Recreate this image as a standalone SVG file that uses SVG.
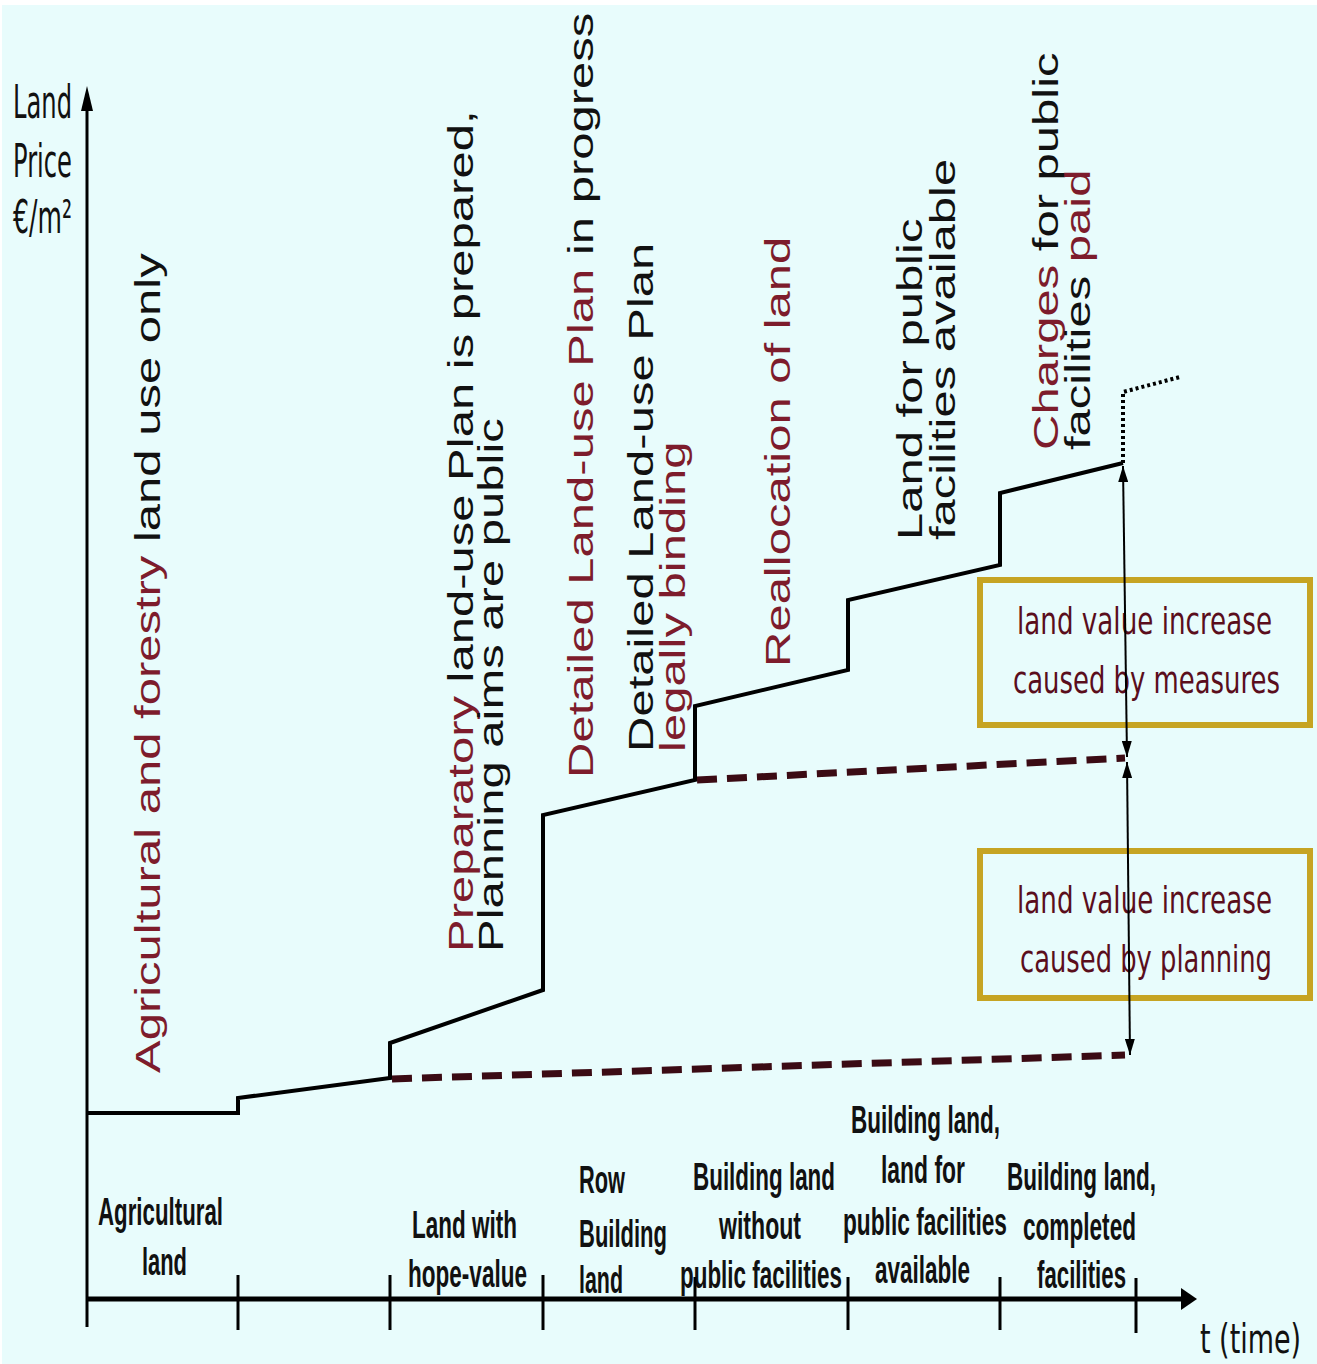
<svg xmlns="http://www.w3.org/2000/svg" width="1317" height="1364" viewBox="0 0 1317 1364">
  <defs>
    <style>
      .rot { font-family: "Liberation Sans", Arial, sans-serif; font-size: 49px; fill: #111; }
      .mr { fill: #7d1c2c; }
      .lbl { font-family: "Liberation Sans", Arial, sans-serif; font-weight: bold; font-size: 38px; fill: #111; }
      .axlbl { font-family: "DejaVu Sans", Verdana, sans-serif; font-size: 46px; fill: #111; }
      .box { fill: none; stroke: #c6a423; stroke-width: 6; }
      .boxtxt { font-family: "DejaVu Sans", Verdana, sans-serif; font-size: 38px; fill: #5a0e1c; }
      .price { fill: none; stroke: #000; stroke-width: 4; stroke-linejoin: miter; }
      .dotted { fill: none; stroke: #000; stroke-width: 4; stroke-dasharray: 3 3; }
      .dashed { fill: none; stroke: #3b0b14; stroke-width: 7; stroke-dasharray: 20 10; }
      .axis { fill: none; stroke: #000; }
      .dim { fill: none; stroke: #000; stroke-width: 2; marker-start: url(#head); marker-end: url(#head); }
    </style>
    <marker id="head" viewBox="0 0 16 10" refX="16" refY="5" markerWidth="16" markerHeight="10" markerUnits="userSpaceOnUse" orient="auto-start-reverse">
      <path d="M0,0 L16,5 L0,10 z" fill="#000"/>
    </marker>
  </defs>

  <!-- background -->
  <rect width="1317" height="1364" fill="#ffffff"/>
  <rect x="2" y="5" width="1315" height="1359" fill="#e8fcfc"/>

  <!-- axis title -->
  <g id="y-axis-title" class="axlbl">
    <text x="13" y="118" textLength="59" lengthAdjust="spacingAndGlyphs">Land</text>
    <text x="13" y="177" textLength="59" lengthAdjust="spacingAndGlyphs">Price</text>
    <text x="13" y="233" textLength="59" lengthAdjust="spacingAndGlyphs">€/m²</text>
  </g>
  <g id="x-axis-title" class="axlbl">
    <text x="1200" y="1353" style="font-size:40px" textLength="101" lengthAdjust="spacingAndGlyphs">t (time)</text>
  </g>

  <!-- stage events (vertical labels) -->
  <g id="event-agricultural" class="rot" transform="translate(160,1073) scale(0.72,1) rotate(-90)">
    <text x="0" y="0"><tspan class="mr">Agricultural and forestry</tspan> land use only</text>
  </g>
  <g id="event-preparatory" class="rot">
    <text transform="translate(473,952) scale(0.72,1) rotate(-90)"><tspan class="mr">Preparatory</tspan> land-use Plan is prepared,</text>
    <text transform="translate(503,952) scale(0.72,1) rotate(-90)">Planning aims are public</text>
  </g>
  <g id="event-detailed-progress" class="rot">
    <text transform="translate(593,778) scale(0.72,1) rotate(-90)"><tspan class="mr">Detailed Land-use Plan</tspan> in progress</text>
  </g>
  <g id="event-detailed-binding" class="rot">
    <text transform="translate(653,752) scale(0.72,1) rotate(-90)">Detailed Land-use Plan</text>
    <text class="rot mr" transform="translate(685,752) scale(0.72,1) rotate(-90)">legally binding</text>
  </g>
  <g id="event-reallocation" class="rot">
    <text class="rot mr" transform="translate(790,667) scale(0.72,1) rotate(-90)">Reallocation of land</text>
  </g>
  <g id="event-public-land" class="rot">
    <text transform="translate(922,540) scale(0.72,1) rotate(-90)">Land for public</text>
    <text transform="translate(955,540) scale(0.72,1) rotate(-90)">facilities available</text>
  </g>
  <g id="event-charges" class="rot">
    <text transform="translate(1058,450) scale(0.72,1) rotate(-90)"><tspan class="mr">Charges</tspan> for public</text>
    <text transform="translate(1090,450) scale(0.72,1) rotate(-90)">facilities <tspan class="mr">paid</tspan></text>
  </g>

  <!-- value increase boxes -->
  <g id="box-measures">
    <rect class="box" x="980" y="580" width="330" height="145"/>
    <text class="boxtxt" x="1017" y="634" textLength="255" lengthAdjust="spacingAndGlyphs">land value increase</text>
    <text class="boxtxt" x="1013" y="693" textLength="267" lengthAdjust="spacingAndGlyphs">caused by measures</text>
  </g>
  <g id="box-planning">
    <rect class="box" x="980" y="851" width="330" height="147"/>
    <text class="boxtxt" x="1017" y="913" textLength="255" lengthAdjust="spacingAndGlyphs">land value increase</text>
    <text class="boxtxt" x="1020" y="972" textLength="252" lengthAdjust="spacingAndGlyphs">caused by planning</text>
  </g>

  <!-- land categories along the time axis -->
  <g id="stage-agricultural" class="lbl">
    <text x="98" y="1225" textLength="125" lengthAdjust="spacingAndGlyphs">Agricultural</text>
    <text x="142" y="1275" textLength="45" lengthAdjust="spacingAndGlyphs">land</text>
  </g>
  <g id="stage-hope-value" class="lbl">
    <text x="412" y="1238" textLength="105" lengthAdjust="spacingAndGlyphs">Land with</text>
    <text x="408" y="1287" textLength="119" lengthAdjust="spacingAndGlyphs">hope-value</text>
  </g>
  <g id="stage-row-building" class="lbl">
    <text x="579" y="1193" textLength="46" lengthAdjust="spacingAndGlyphs">Row</text>
    <text x="579" y="1247" textLength="88" lengthAdjust="spacingAndGlyphs">Building</text>
    <text x="579" y="1293" textLength="44" lengthAdjust="spacingAndGlyphs">land</text>
  </g>
  <g id="stage-without-facilities" class="lbl">
    <text x="693" y="1190" textLength="142" lengthAdjust="spacingAndGlyphs">Building land</text>
    <text x="719" y="1239" textLength="82" lengthAdjust="spacingAndGlyphs">without</text>
    <text x="680" y="1288" textLength="162" lengthAdjust="spacingAndGlyphs">public facilities</text>
  </g>
  <g id="stage-facilities-available" class="lbl">
    <text x="851" y="1133" textLength="149" lengthAdjust="spacingAndGlyphs">Building land,</text>
    <text x="881" y="1183" textLength="84" lengthAdjust="spacingAndGlyphs">land for</text>
    <text x="843" y="1235" textLength="164" lengthAdjust="spacingAndGlyphs">public facilities</text>
    <text x="875" y="1283" textLength="95" lengthAdjust="spacingAndGlyphs">available</text>
  </g>
  <g id="stage-completed" class="lbl">
    <text x="1007" y="1190" textLength="149" lengthAdjust="spacingAndGlyphs">Building land,</text>
    <text x="1023" y="1240" textLength="113" lengthAdjust="spacingAndGlyphs">completed</text>
    <text x="1037" y="1288" textLength="89" lengthAdjust="spacingAndGlyphs">facilities</text>
  </g>

  <!-- axes, price curve and dimension arrows -->
  <g id="connectors">
    <line class="axis" x1="87" y1="1327" x2="87" y2="105" stroke-width="3"/>
    <polygon points="87,86 81,111 93,111" fill="#000"/>
    <line class="axis" x1="87" y1="1299" x2="1184" y2="1299" stroke-width="5"/>
    <polygon points="1197,1299 1181,1288 1181,1310" fill="#000"/>
    <path class="axis" stroke-width="3" d="M238,1275V1330 M390,1275V1330 M543,1275V1330 M695,1277V1330 M848,1277V1330 M1000,1277V1330 M1136,1278V1333"/>

    <path class="dashed" d="M392,1079 L1125,1055"/>
    <path class="dashed" d="M697,780 L1125,758"/>

    <path class="price" d="M87,1113 H238 V1098 L390,1078 V1043 L543,990 V815 L695,780 V706 L848,670 V600 L1000,565 V493 L1123,463"/>
    <path class="dotted" d="M1123,463 V392 L1180,377"/>

    <line class="dim" x1="1123" y1="466" x2="1127" y2="757"/>
    <line class="dim" x1="1127" y1="762" x2="1130" y2="1055"/>
  </g>
</svg>
